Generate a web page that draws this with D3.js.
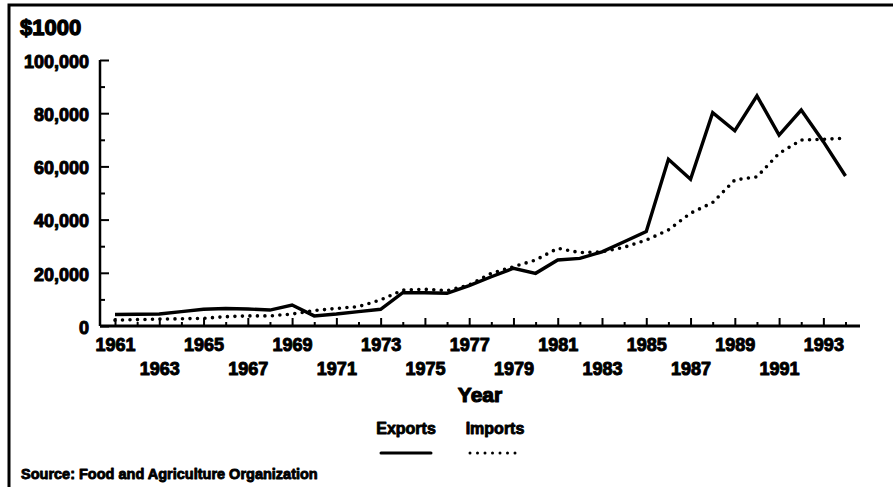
<!DOCTYPE html>
<html>
<head>
<meta charset="utf-8">
<script src="https://cdn.jsdelivr.net/npm/d3@7"></script>
<style>
  body { margin: 0; background: #fff; }
  svg { display: block; }
  text { font-family: "Liberation Sans", Arial, sans-serif; font-weight: bold; fill: #000;
         stroke: #000; stroke-linejoin: round; }
</style>
</head>
<body>
<div id="chart"></div>
<script>
// Data ($1000)
const years   = d3.range(1961, 1995);
const exports = [4300, 4400, 4500, 5400, 6300, 6600, 6400, 6000, 7900, 3800,
                 4500, 5400, 6300, 12500, 12500, 12300, 15200, 18500, 21700, 19800,
                 24800, 25400, 27900, 31700, 35500, 62700, 55200, 80200, 73400, 86500,
                 71800, 81200, 69300, 56400];
const imports = [2200, 2400, 2600, 2700, 2900, 3500, 3800, 3800, 4500, 5800,
                 6600, 7300, 9800, 13500, 13800, 13300, 15400, 19800, 22300, 24800,
                 29200, 27600, 27900, 29600, 32300, 36100, 42400, 46400, 54900, 56100,
                 64900, 69900, 70200, 70600];
const yTicks  = [0, 20000, 40000, 60000, 80000, 100000];
const yMinor  = [10000, 30000, 50000, 70000, 90000];
const labelYears = d3.range(1961, 1995, 2);
const minorYears = d3.range(1962, 1995, 2);

const config = {
  width  : 893,
  height : 487,
  left   : 100,
  right  : 860,
  top    : 60,
  bottom : 326
};

const svg = d3.select("#chart")
  .append("svg")
    .attr("width", config.width)
    .attr("height", config.height);

// frame
svg.append("path")
  .attr("d", "M9,487 V5 H893")
  .attr("fill", "none")
  .attr("stroke", "#000")
  .attr("stroke-width", 3);

const x = d3.scaleLinear().domain([1961, 1994]).range([115, 845.5]);
const y = d3.scaleLinear().domain([0, 100000]).range([config.bottom, config.top]);

// y axis
const yAxis = svg.append("g")
  .attr("transform", "translate(" + config.left + ",0)")
  .call(d3.axisLeft(y).tickValues(yTicks).tickSize(-9).tickPadding(11)
          .tickFormat(d3.format(",")));
yAxis.select(".domain").remove();
yAxis.selectAll(".tick line").attr("stroke-width", 2);
yAxis.selectAll("text")
  .style("font-size", "18px")
  .style("stroke-width", "1px")
  .attr("dy", "0.4em");

svg.append("g")
  .attr("transform", "translate(" + config.left + ",0)")
  .call(d3.axisLeft(y).tickValues(yMinor).tickSize(-5).tickFormat(""))
  .call(g => g.select(".domain").remove())
  .selectAll(".tick line").attr("stroke-width", 2);

svg.append("line")
  .attr("x1", config.left).attr("x2", config.left)
  .attr("y1", y(100000)).attr("y2", y(0))
  .attr("stroke", "#000").attr("stroke-width", 2.5);

// x axis
const xAxis = svg.append("g")
  .attr("transform", "translate(0," + config.bottom + ")")
  .call(d3.axisBottom(x).tickValues(labelYears).tickSize(-8).tickFormat(d3.format("d")));
xAxis.select(".domain").remove();
xAxis.selectAll(".tick line").attr("stroke-width", 2);
xAxis.selectAll("text")
  .style("font-size", "18px")
  .style("stroke-width", "1px")
  .attr("dy", null)
  .attr("y", (d, i) => i % 2 === 0 ? 25 : 49);

svg.append("g")
  .attr("transform", "translate(0," + config.bottom + ")")
  .call(d3.axisBottom(x).tickValues(minorYears).tickSize(-4).tickFormat(""))
  .call(g => g.select(".domain").remove())
  .selectAll(".tick line").attr("stroke-width", 2);

svg.append("line")
  .attr("x1", config.left).attr("x2", config.right)
  .attr("y1", config.bottom).attr("y2", config.bottom)
  .attr("stroke", "#000").attr("stroke-width", 3);

// lines
const line = d3.line().x((d, i) => x(years[i])).y(d => y(d));

svg.append("path")
  .datum(imports)
  .attr("d", line)
  .attr("fill", "none")
  .attr("stroke", "#000")
  .attr("stroke-width", 3.6)
  .attr("stroke-linecap", "round")
  .attr("stroke-dasharray", "0 7.5");

svg.append("path")
  .datum(exports)
  .attr("d", line)
  .attr("fill", "none")
  .attr("stroke", "#000")
  .attr("stroke-width", 3.4)
  .attr("stroke-linejoin", "miter");

// texts
svg.append("text")
  .attr("x", 20).attr("y", 35)
  .style("font-size", "22px")
  .style("stroke-width", "1.3px")
  .text("$1000");

svg.append("text")
  .attr("x", 480).attr("y", 402)
  .attr("text-anchor", "middle")
  .style("font-size", "21px")
  .style("stroke-width", "1.2px")
  .text("Year");

// legend
const legend = [
  { name: "Exports", cx: 406, dash: null },
  { name: "Imports", cx: 495, dash: "0 7.5" }
];
legend.forEach(l => {
  svg.append("text")
    .attr("x", l.cx).attr("y", 434)
    .attr("text-anchor", "middle")
    .style("font-size", "16px")
    .style("stroke-width", "0.9px")
    .text(l.name);
  svg.append("line")
    .attr("x1", l.cx - 25).attr("x2", l.cx + 25)
    .attr("y1", 453).attr("y2", 453)
    .attr("stroke", "#000")
    .attr("stroke-width", 3)
    .attr("stroke-linecap", "round")
    .attr("stroke-dasharray", l.dash);
});

svg.append("text")
  .attr("x", 21).attr("y", 479)
  .style("font-size", "14.5px")
  .style("stroke-width", "0.9px")
  .text("Source: Food and Agriculture Organization");
</script>
</body>
</html>
